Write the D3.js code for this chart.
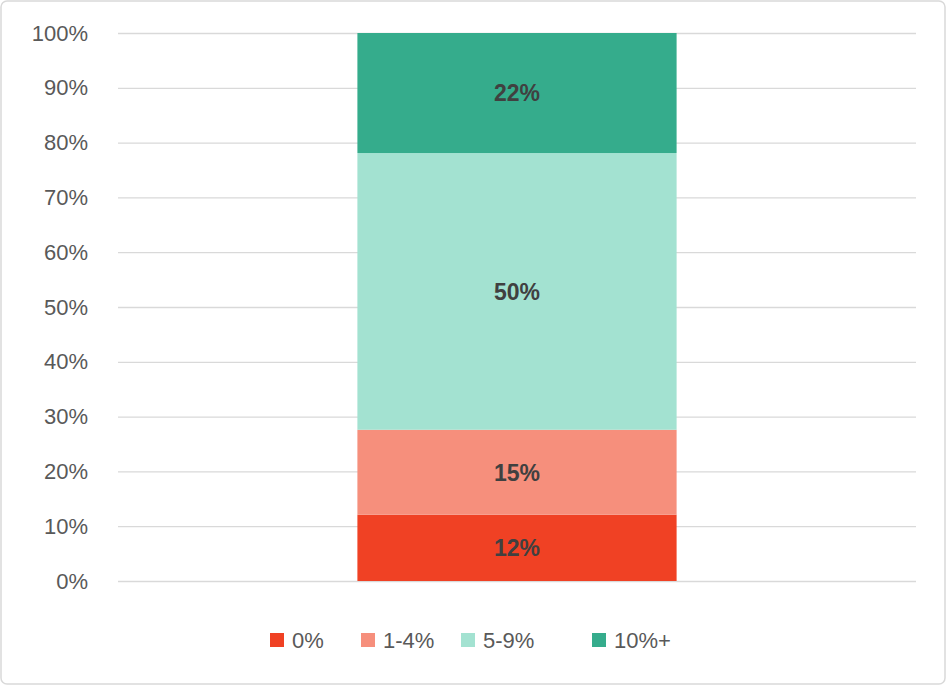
<!DOCTYPE html>
<html><head><meta charset="utf-8">
<script src="https://cdn.jsdelivr.net/npm/d3@7"></script>
<style>body{margin:0;background:#fff}svg{display:block;font-family:"Liberation Sans",Arial,sans-serif}</style>
</head><body>
<svg id="chart"></svg>
<script>
const categories = ["0%", "1-4%", "5-9%", "10%+"];
const values = [12.1, 15.5, 50.5, 21.9];
const labels = ["12%", "15%", "50%", "22%"];
const colors = ["#F04124", "#F68F7C", "#A3E2D1", "#35AC8C"];
const yTicks = d3.range(0, 101, 10);

const W = 946, H = 685;
const margin = {top: 33, left: 118, right: 30, bottom: 104};
const svg = d3.select("#chart").attr("width", W).attr("height", H);
svg.append("rect").attr("x", 1).attr("y", 1).attr("width", W - 2).attr("height", H - 2)
  .attr("rx", 6).attr("fill", "#fff").attr("stroke", "#d9d9d9").attr("stroke-width", 1.5);

const y = d3.scaleLinear().domain([0, 100]).range([H - margin.bottom, margin.top]);
const x = d3.scaleBand().domain(["a"]).range([margin.left, W - margin.right]).paddingInner(0.6).paddingOuter(0.3);

const yAxis = svg.append("g").attr("transform", `translate(${margin.left},0)`)
  .call(d3.axisLeft(y).tickValues(yTicks).tickFormat(d => d + "%").tickSize(-(W - margin.left - margin.right)).tickPadding(30));
yAxis.select(".domain").remove();
yAxis.selectAll("line").attr("stroke", "#d9d9d9").attr("stroke-width", 1.3);
yAxis.selectAll("text").attr("fill", "#595959").style("font-size", "22px");

let acc = 0;
const stack = values.map((v, i) => { const s = {y0: acc, y1: acc + v, i}; acc += v; return s; });
svg.selectAll(".seg").data(stack).join("rect").attr("class", "seg")
  .attr("x", x("a")).attr("width", x.bandwidth())
  .attr("y", d => y(d.y1)).attr("height", d => y(d.y0) - y(d.y1))
  .attr("fill", d => colors[d.i]);
svg.selectAll(".lbl").data(stack).join("text").attr("class", "lbl")
  .attr("x", x("a") + x.bandwidth() / 2).attr("y", d => y((d.y0 + d.y1) / 2))
  .attr("dy", "0.36em").attr("text-anchor", "middle")
  .attr("fill", "#404040").style("font-size", "23px").style("font-weight", "bold")
  .text(d => labels[d.i]);

// legend
const lg = svg.append("g");
const legX = [270, 361, 461, 592];
categories.forEach((c, i) => {
  lg.append("rect").attr("x", legX[i]).attr("y", 633).attr("width", 14).attr("height", 14).attr("fill", colors[i]);
  lg.append("text").attr("x", legX[i] + 22).attr("y", 640).attr("dy", "0.36em")
    .attr("fill", "#595959").style("font-size", "22px").text(c);
});
</script>
</body></html>
